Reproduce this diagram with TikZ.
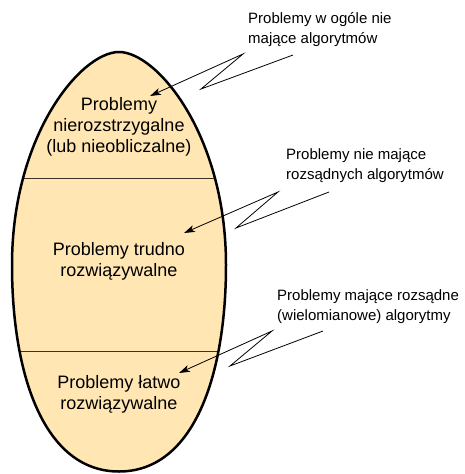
\documentclass[tikz,border=0pt]{standalone}
\usepackage{fontspec}
\setmainfont{Liberation Sans}
\usetikzlibrary{arrows.meta}
\definecolor{eggfill}{RGB}{255,230,179}
\definecolor{divcol}{RGB}{60,50,40}
\newcommand\myeggpath{(119,52) .. controls (157,52) and (226,135) .. (226,265)
  .. controls (226,375) and (194,471.5) .. (119,471.5)
  .. controls (44,471.5) and (12,375) .. (12,265)
  .. controls (12,135) and (81,52) .. (119,52) -- cycle}
\begin{document}
\begin{tikzpicture}[x=1pt,y=-1pt,
  bigtxt/.style={font=\fontsize{18}{21}\selectfont, align=center, anchor=base, inner sep=0pt},
  smalltxt/.style={font=\fontsize{15}{20}\selectfont, align=left, anchor=base west, inner sep=0pt},
  zig/.style={line width=0.8pt, -{Stealth[length=11pt,width=7pt,inset=3pt]}},
  divider/.style={line width=0.9pt, draw=divcol}]
\useasboundingbox (0,0) rectangle (464,474);
\coordinate (egg) at (119,265);
\fill[eggfill] \myeggpath;
\begin{scope}
  \clip \myeggpath;
  \draw[divider] (0,178) -- (240,178);
  \draw[divider] (0,351) -- (240,351);
\end{scope}
\draw[line width=2.5pt] \myeggpath;
\node[bigtxt] (undec) at (119,152) {Problemy\\nierozstrzygalne\\(lub nieobliczalne)};
\node[bigtxt] (hard) at (119,276) {Problemy trudno\\rozwiązywalne};
\node[bigtxt] (easy) at (119,409) {Problemy łatwo\\rozwiązywalne};
\node[smalltxt] (l1) at (248,43) {Problemy w ogóle nie\\mające algorytmów};
\node[smalltxt] (l2) at (286,179) {Problemy nie mające\\rozsądnych algorytmów};
\node[smalltxt] (l3) at (277,320) {Problemy mające rozsądne\\(wielomianowe) algorytmy};
\coordinate (a1s) at (293,55);
\coordinate (a1b) at (201,89);
\coordinate (a1c) at (243,54);
\coordinate (a1t) at (150,96);
\coordinate (a2s) at (329,192);
\coordinate (a2b) at (236,228);
\coordinate (a2c) at (278,192);
\coordinate (a2t) at (184,233);
\coordinate (a3s) at (323,331);
\coordinate (a3b) at (230,366);
\coordinate (a3c) at (272,331);
\coordinate (a3t) at (179,373);
\draw[zig] (a1s) -- (a1b) -- (a1c) -- (a1t);
\draw[zig] (a2s) -- (a2b) -- (a2c) -- (a2t);
\draw[zig] (a3s) -- (a3b) -- (a3c) -- (a3t);
\end{tikzpicture}
\end{document}
